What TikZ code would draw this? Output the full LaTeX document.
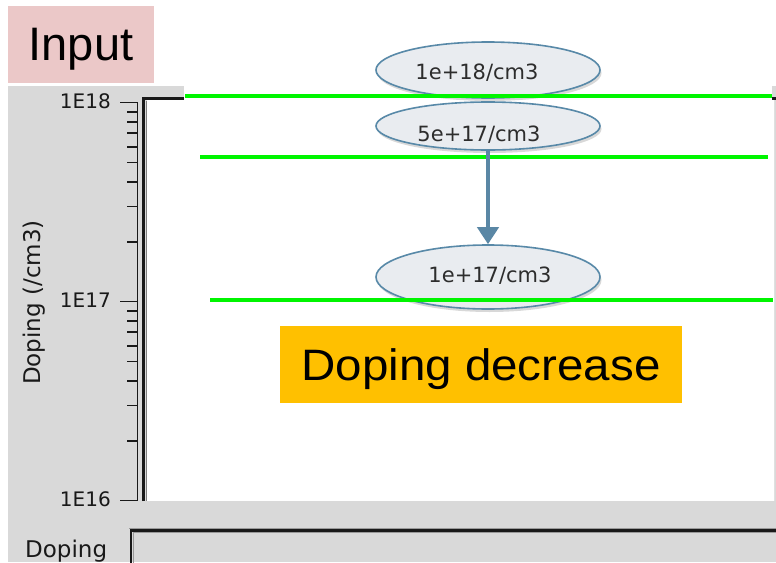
\documentclass[tikz,border=0pt]{standalone}
\usepackage{fontspec}
\setmainfont{Liberation Sans}
\newfontfamily\guifont{DejaVu Sans}
\newfontfamily\widefont[FakeStretch=1.08]{Liberation Sans}
\usetikzlibrary{arrows.meta,shapes.geometric,shadows}

\definecolor{panelgray}{RGB}{217,217,217}
\definecolor{inputpink}{RGB}{235,200,200}
\definecolor{levelgreen}{RGB}{0,245,0}
\definecolor{bubblefill}{RGB}{233,236,240}
\definecolor{bubbleedge}{RGB}{88,137,168}
\definecolor{arrowblue}{RGB}{90,135,165}
\definecolor{notegold}{RGB}{255,192,0}
\definecolor{guitext}{RGB}{25,25,25}
\definecolor{bubbletext}{RGB}{45,45,45}

\tikzset{
  frameline/.style={line width=2.4pt, black!90},
  frameshade/.style={line width=1.5pt, black!50},
  axisline/.style={line width=1.8pt, black!90},
  majortick/.style={line width=1.8pt, black!90},
  minortick/.style={line width=1.8pt, black!90},
  ticklabel/.style={anchor=east, inner sep=0pt, text=guitext, font=\guifont\fontsize{20}{20}\selectfont},
  guilabel/.style={inner sep=0pt, text=guitext, font=\guifont\fontsize{23}{23}\selectfont},
  level/.style={line width=4pt, levelgreen},
  bubble/.style={ellipse, draw=bubbleedge, line width=1.6pt, fill=bubblefill,
    minimum width=224pt, inner sep=0pt,
    drop shadow={shadow xshift=1.5pt, shadow yshift=-3pt, fill=black!30, opacity=0.5}},
  bubbletxt/.style={inner sep=0pt, text=bubbletext, font=\guifont\fontsize{21}{21}\selectfont},
  flow/.style={line width=4pt, arrowblue, -{Triangle[width=21pt,length=17pt]}},
  notebox/.style={fill=notegold, minimum width=402pt, minimum height=77pt, inner sep=0pt,
    text depth=0pt, font=\widefont\fontsize{44}{44}\selectfont},
  inputbox/.style={fill=inputpink, minimum width=146pt, minimum height=77pt, inner sep=0pt,
    text depth=0pt, font=\fontsize{47}{47}\selectfont}
}

\begin{document}
\begin{tikzpicture}[x=1pt,y=-1pt]
\useasboundingbox (0,0) rectangle (776,562);
\fill[white] (0,0) rectangle (776,562);

% "Input" tag
\node[inputbox] (input) at (81,44.5) {Input};

% window panel and white plot area
\fill[panelgray] (8,86) rectangle (776,562);
\fill[white] (184,80) rectangle (772,98);
\fill[white] (147,98) rectangle (774.5,501);
\draw[line width=1pt, black!12] (774.5,98) -- (774.5,501);

% plot frame
\draw[frameline] (143.5,501) -- (143.5,98.5) -- (184,98.5);
\draw[frameline] (772,98.5) -- (776,98.5);
\draw[frameshade] (146.5,501) -- (146.5,100.5);

% logarithmic axis
\draw[axisline] (137.5,102.5) -- (137.5,500.5);
\foreach \yy in {102.5,301.5,500.5}
  \draw[majortick] (120,\yy) -- (137.5,\yy);
\foreach \d in {0,1}
  \foreach \k in {2,...,9} {
    \pgfmathsetmacro\yy{102.5+199*(\d+1-log10(\k))}
    \draw[minortick] (127,\yy) -- (137.5,\yy);
  }
\node[ticklabel] (l18) at (111,101.5) {1E18};
\node[ticklabel] (l17) at (111,300.5) {1E17};
\node[ticklabel] (l16) at (111,499.5) {1E16};
\node[guilabel, rotate=90] (ylab) at (34,302.5) {Doping (/cm3)};

% lower field
\node[guilabel, anchor=base west] (dop) at (25,557) {Doping};
\draw[line width=1.2pt, black!40] (129,528.5) -- (790,528.5);
\draw[line width=2.2pt, black!90] (131,575) -- (131,530.5) -- (790,530.5);
\draw[line width=1pt, black!40] (133,575) -- (133,532.3) -- (790,532.3);

% doping levels
\node[bubble, minimum height=56pt] (e1) at (488,70) {};
\node[bubble, minimum height=48pt] (e2) at (488,126) {};
\node[bubble, minimum height=64pt] (e3) at (488,277) {};
\node[bubbletxt] (t1) at (477,73) {1e+18/cm3};
\node[bubbletxt] (t2) at (479,135) {5e+17/cm3};
\node[bubbletxt] (t3) at (490,276) {1e+17/cm3};

\draw[level] (185,96) -- (772,96);
\draw[level] (200,157) -- (768,157);
\draw[level] (210,299.5) -- (773,299.5);

\draw[flow] (e2.south) -- (e3.north);

% annotation
\node[notebox] (note) at (481,364.5) {Doping decrease};
\end{tikzpicture}
\end{document}
